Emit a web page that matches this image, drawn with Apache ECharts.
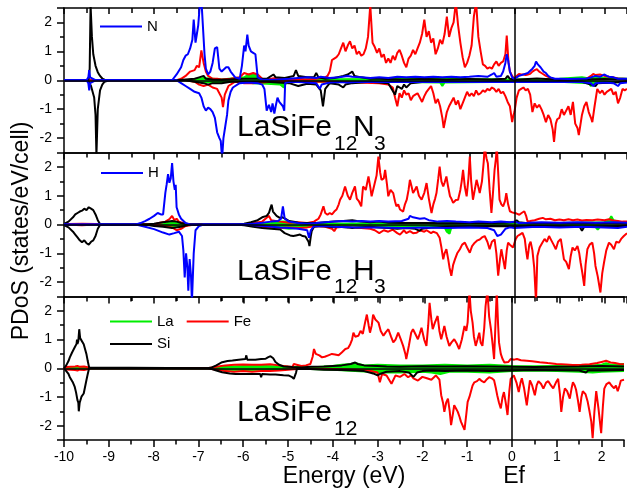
<!DOCTYPE html>
<html><head><meta charset="utf-8">
<script src="https://cdn.jsdelivr.net/npm/echarts@6/dist/echarts.min.js"></script>
<style>html,body{margin:0;padding:0;background:#fff}#c{width:627px;height:489px}</style>
</head><body><div id="c"></div>
<script>
// ---------------- DATA ----------------
const xTickValues = [-10,-9,-8,-7,-6,-5,-4,-3,-2,-1,0,1,2];
const yTickValues = [-2,-1,0,1,2];
const panelTitles = [
  {main:'LaSiFe', sub1:'12', el:'N', sub2:'3'},
  {main:'LaSiFe', sub1:'12', el:'H', sub2:'3'},
  {main:'LaSiFe', sub1:'12', el:'', sub2:''}
];

// ---- Panel 1: LaSiFe12N3 ----
const n3_La_up = [[-10,0],[-7.3,0],[-7.0,0.05],[-6.9,0.08],[-6.5,0.03],[-6.0,0.1],[-5.9,0.2],[-5.8,0.22],[-5.7,0.2],[-5.65,0.05],[-5.0,0.03],[-3.0,0.04],[-1.0,0.04],[0,0.03],[1.0,0.05],[1.5,0.1],[1.6,0.08],[2.0,0.08],[2.5,0.05]];
const n3_La_dn = [[-10,0],[-7.3,0],[-7.0,-0.06],[-6.9,-0.08],[-6.6,-0.05],[-6.0,-0.06],[-5.8,-0.1],[-5.5,-0.12],[-5.2,-0.15],[-5.12,-0.25],[-5.05,-0.04],[-3.0,-0.05],[-1.65,-0.08],[-1.6,-0.2],[-1.55,-0.08],[0,-0.05],[1.0,-0.05],[1.65,-0.1],[1.7,-0.2],[1.75,-0.1],[2.5,-0.05]];
const n3_Fe_up = [[-10,0],[-7.5,0],[-7.4,0.05],[-7.3,0.15],[-7.2,0.3],[-7.1,0.35],[-7.05,0.5],[-7.0,0.45],[-6.95,1.03],[-6.9,0.6],[-6.85,0.3],[-6.8,0.15],[-6.7,0.05],[-6.6,0.05],[-6.5,0.03],[-6.3,0.05],[-6.1,0.1],[-6.0,0.25],[-5.9,0.2],[-5.8,0.25],[-5.7,0.2],[-5.6,0.05],[-5.5,0.03],[-5.3,0.08],[-5.2,0.05],[-5.0,0.02],[-4.8,0.05],[-4.6,0.03],[-4.4,0.05],[-4.2,0.1],
 [-4.15,0.15],[-4.1,0.3],[-4.05,0.7],[-4.0,0.75],[-3.95,0.8],[-3.9,0.9],[-3.85,1.1],[-3.8,1.3],[-3.75,1.0],[-3.7,1.2],[-3.65,1.35],[-3.6,1.1],[-3.55,1.2],[-3.5,0.9],[-3.45,1.0],[-3.4,0.85],[-3.35,0.9],[-3.3,1.1],[-3.25,1.5],[-3.2,2.6],[-3.15,1.3],[-3.1,1.15],[-3.05,0.95],[-3.0,1.1],[-2.95,0.8],[-2.9,0.9],[-2.85,0.6],[-2.8,0.75],[-2.75,0.6],[-2.7,0.85],[-2.65,0.7],[-2.6,0.95],[-2.55,1.05],[-2.5,0.85],[-2.45,0.6],[-2.4,0.45],[-2.35,0.75],[-2.3,0.85],[-2.25,1.05],[-2.2,0.9],[-2.15,1.1],[-2.1,1.3],[-2.05,1.6],[-2.0,2.1],[-1.95,1.5],[-1.9,1.7],[-1.85,1.3],[-1.8,1.45],[-1.75,0.9],[-1.7,1.1],[-1.65,1.4],[-1.6,1.25],[-1.55,1.6],[-1.5,2.2],[-1.45,1.5],[-1.4,1.8],[-1.35,2.0],[-1.3,2.7],[-1.25,1.9],[-1.2,1.3],[-1.15,0.8],[-1.1,0.45],[-1.05,0.6],[-1.0,0.85],[-0.95,1.2],[-0.9,2.2],[-0.85,2.7],[-0.8,1.5],[-0.75,1.0],[-0.7,0.55],[-0.65,0.5],[-0.6,0.4],[-0.55,0.45],[-0.5,0.4],[-0.45,0.55],[-0.4,0.65],[-0.35,0.5],[-0.3,0.6],[-0.25,0.65],[-0.2,0.9],[-0.17,1.55],[-0.13,0.6],[-0.1,0.3],[-0.05,0.15],[0,0.05],[0.05,0.15],[0.1,0.22],[0.15,0.2],[0.2,0.2],[0.25,0.18],[0.3,0.2],[0.35,0.22],[0.4,0.3],[0.45,0.35],[0.5,0.38],[0.55,0.3],[0.6,0.25],[0.65,0.2],[0.7,0.15],[0.8,0.08],[0.9,0.04],[1.0,0.03],[1.2,0.03],[1.4,0.04],[1.6,0.05],[1.7,0.15],[1.75,0.22],[1.8,0.18],[1.9,0.2],[2.0,0.15],[2.1,0.12],[2.2,0.1],[2.3,0.06],[2.4,0.05],[2.5,0.04]];
const n3_Fe_dn = [[-10,0],[-7.3,0],[-7.1,-0.05],[-7.0,-0.15],[-6.9,-0.2],[-6.8,-0.15],[-6.7,-0.25],[-6.6,-0.3],[-6.5,-0.6],[-6.47,-0.93],[-6.43,-0.5],[-6.35,-0.2],[-6.2,-0.05],[-6.0,-0.1],[-5.8,-0.1],[-5.6,-0.08],[-5.4,-0.05],[-5.0,-0.03],[-4.5,-0.05],[-4.0,-0.05],[-3.5,-0.08],[-3.0,-0.1],[-2.8,-0.15],[-2.7,-0.25],[-2.65,-0.6],[-2.6,-0.9],[-2.55,-0.45],[-2.5,-0.6],[-2.45,-0.35],[-2.4,-0.5],[-2.35,-0.45],
 [-2.3,-0.69],[-2.25,-0.55],[-2.2,-0.5],[-2.15,-0.45],[-2.1,-0.6],[-2.05,-0.75],[-2.0,-0.55],[-1.95,-0.4],[-1.9,-0.3],[-1.85,-0.2],[-1.8,-0.45],[-1.75,-0.8],[-1.7,-0.65],[-1.65,-0.9],[-1.6,-1.3],[-1.57,-1.65],[-1.5,-1.1],[-1.45,-0.9],[-1.4,-0.75],[-1.35,-0.6],[-1.3,-0.85],[-1.25,-0.7],[-1.2,-1.0],[-1.15,-0.8],[-1.1,-0.6],[-1.05,-0.4],[-1.0,-0.55],[-0.95,-0.45],[-0.9,-0.55],[-0.85,-0.35],[-0.8,-0.5],[-0.75,-0.45],[-0.7,-0.35],[-0.65,-0.4],[-0.6,-0.3],[-0.55,-0.35],[-0.5,-0.25],[-0.45,-0.3],[-0.4,-0.4],[-0.35,-0.3],[-0.3,-0.45],[-0.25,-0.4],[-0.2,-0.55],[-0.15,-0.75],[-0.1,-0.9],[-0.05,-1.45],[-0.02,-1.2],[0,-1.1],[0.05,-0.6],[0.1,-0.35],[0.15,-0.3],[0.2,-0.25],[0.25,-0.35],[0.3,-0.3],[0.35,-0.5],[0.4,-1.1],[0.45,-0.8],[0.5,-0.95],[0.55,-0.85],[0.6,-1.0],[0.65,-1.2],[0.7,-1.45],[0.75,-1.2],[0.8,-1.35],[0.85,-1.7],[0.88,-2.13],[0.92,-1.5],[0.95,-1.35],[1.0,-1.3],[1.05,-1.0],[1.1,-1.2],[1.15,-1.05],[1.2,-0.9],[1.25,-1.2],[1.3,-0.75],[1.35,-1.5],[1.4,-1.65],[1.43,-1.9],[1.5,-1.2],[1.55,-0.9],[1.6,-0.75],[1.65,-1.1],[1.7,-1.3],[1.73,-1.45],[1.78,-0.9],[1.84,-0.3],[1.9,-0.45],[1.95,-0.35],[2.0,-0.5],[2.05,-0.4],[2.1,-0.35],[2.15,-0.3],[2.2,-0.5],[2.25,-0.4],[2.3,-0.8],[2.35,-0.6],[2.4,-0.3],[2.45,-0.35],[2.5,-0.3]];
const n3_Si_up = [[-10,0],[-9.5,0],[-9.45,0.05],[-9.43,0.4],[-9.41,2.6],[-9.38,1.5],[-9.35,0.9],[-9.3,0.5],[-9.25,0.28],[-9.2,0.15],[-9.15,0.06],[-9.1,0.02],[-9.0,0],[-7.5,0],[-7.3,0.03],[-7.1,0.05],[-7.0,0.1],[-6.9,0.15],[-6.85,0.05],[-6.7,0.03],[-6.5,0.02],[-6.0,0.05],[-5.5,0.05],[-5.35,0.2],[-5.3,0.1],[-5.1,0.08],[-4.9,0.15],[-4.85,0.35],[-4.8,0.15],[-4.6,0.1],[-4.45,0.1],[-4.4,0.25],[-4.35,0.1],[-4.2,0.05],[-4.0,0.08],[-3.8,0.15],[-3.7,0.2],[-3.6,0.3],[-3.55,0.15],[-3.4,0.1],[-3.2,0.05],[-3.0,0.05],[-2.5,0.03],[-2.0,0.04],[-1.5,0.03],[-1.0,0.04],[-0.5,0.03],[-0.2,0.05],[-0.15,0.15],[-0.1,0.05],[0,0.02],[0.5,0.06],[1.0,0.02],[1.5,0.03],[2.0,0.04],[2.5,0.02]];
const n3_Si_dn = [[-10,0],[-9.5,0],[-9.45,-0.05],[-9.4,-0.2],[-9.33,-0.6],[-9.3,-1.2],[-9.28,-2.6],[-9.25,-1.0],[-9.2,-0.35],[-9.15,-0.15],[-9.1,-0.05],[-9.0,0],[-7.3,0],[-7.1,-0.05],[-7.0,-0.08],[-6.9,-0.1],[-6.8,-0.15],[-6.7,-0.1],[-6.5,-0.1],[-6.3,-0.05],[-6.0,-0.05],[-5.5,-0.05],[-5.0,-0.1],[-4.8,-0.2],[-4.6,-0.12],[-4.4,-0.15],[-4.3,-0.35],[-4.25,-0.9],[-4.2,-0.3],[-4.1,-0.1],[-3.9,-0.15],[-3.8,-0.25],[-3.75,-0.15],[-3.6,-0.1],[-3.2,-0.05],[-3.0,-0.08],[-2.8,-0.1],[-2.65,-0.5],[-2.6,-0.2],[-2.5,-0.3],[-2.45,-0.15],[-2.4,-0.25],[-2.3,-0.1],[-2.0,-0.05],[-1.5,-0.05],[-1.0,-0.06],[0,-0.05],[0.5,-0.05],[1.5,-0.05],[1.8,-0.2],[1.85,-0.1],[2.5,-0.05]];
const n3_N_up = [[-10,0],[-9.5,0],[-9.46,0.1],[-9.44,0.35],[-9.42,0.1],[-9.3,0],[-7.6,0],[-7.5,0.2],[-7.4,0.45],[-7.35,0.7],[-7.3,0.85],[-7.25,0.9],[-7.2,1.1],[-7.15,1.4],[-7.12,2.1],[-7.08,1.3],[-7.05,1.6],[-7.02,1.9],[-6.99,2.5],[-6.95,2.8],[-6.92,2.8],[-6.88,0.9],[-6.85,0.4],[-6.8,0.2],[-6.75,0.3],[-6.7,0.6],[-6.65,1.1],[-6.6,1.15],[-6.55,0.4],[-6.5,0.3],[-6.4,0.45],[-6.35,0.45],[-6.3,0.3],[-6.2,0.1],[-6.1,0.05],[-6.05,0.5],[-6.0,1.2],[-5.97,1.0],[-5.93,1.58],[-5.9,1.2],[-5.85,1.0],[-5.8,0.95],[-5.75,0.9],[-5.72,0.85],[-5.7,0.1],[-5.6,0.02],[-5.3,0.02],[-5.0,0.05],[-4.8,0.08],[-4.6,0.1],[-4.4,0.08],[-4.3,0.12],[-4.1,0.08],[-3.9,0.1],[-3.7,0.15],[-3.6,0.12],[-3.4,0.1],[-3.2,0.08],[-3.0,0.1],[-2.8,0.08],[-2.6,0.12],[-2.4,0.1],[-2.2,0.12],[-2.0,0.1],[-1.8,0.12],[-1.6,0.1],[-1.4,0.12],[-1.2,0.1],[-1.0,0.12],[-0.8,0.15],[-0.6,0.12],[-0.5,0.2],[-0.45,0.25],[-0.4,0.12],[-0.3,0.15],[-0.25,0.3],[-0.2,0.6],[-0.17,0.9],[-0.14,0.7],[-0.1,0.3],[-0.05,0.1],[0,0.05],[0.1,0.15],[0.2,0.2],[0.3,0.25],[0.4,0.4],[0.45,0.5],[0.48,0.65],[0.52,0.55],[0.58,0.45],[0.65,0.3],[0.7,0.25],[0.75,0.15],[0.8,0.1],[0.9,0.05],[1.0,0.05],[1.2,0.04],[1.4,0.05],[1.6,0.06],[1.7,0.1],[1.8,0.15],[1.9,0.12],[2.0,0.2],[2.05,0.15],[2.1,0.12],[2.2,0.1],[2.3,0.05],[2.4,0.05],[2.5,0.05]];
const n3_N_dn = [[-10,0],[-9.5,0],[-9.46,-0.1],[-9.44,-0.35],[-9.42,-0.1],[-9.3,0],[-7.5,0],[-7.4,-0.1],[-7.3,-0.2],[-7.2,-0.3],[-7.1,-0.4],[-7.0,-0.45],[-6.95,-0.6],[-6.9,-0.9],[-6.85,-1.05],[-6.8,-0.95],[-6.75,-1.0],[-6.7,-1.1],[-6.65,-1.3],[-6.6,-1.8],[-6.55,-2.0],[-6.52,-2.1],[-6.49,-2.7],[-6.46,-2.0],[-6.42,-1.6],[-6.38,-1.2],[-6.35,-0.7],[-6.3,-0.4],[-6.25,-0.25],[-6.1,-0.1],[-5.9,-0.08],[-5.7,-0.1],[-5.6,-0.15],[-5.55,-0.3],[-5.5,-1.05],[-5.45,-0.85],[-5.4,-1.1],[-5.37,-0.8],[-5.33,-1.15],[-5.3,-0.9],[-5.26,-0.6],[-5.22,-0.75],[-5.18,-0.8],[-5.14,-0.9],[-5.11,-1.05],[-5.09,-0.1],[-5.0,-0.05],[-4.8,-0.06],[-4.6,-0.08],[-4.4,-0.1],[-4.32,-0.3],[-4.28,-0.15],[-4.1,-0.08],[-3.9,-0.06],[-3.7,-0.08],[-3.5,-0.06],[-3.3,-0.05],[-3.0,-0.06],[-2.5,-0.05],[-2.0,-0.06],[-1.5,-0.05],[-1.0,-0.06],[-0.5,-0.05],[0,-0.06],[0.5,-0.05],[1.0,-0.06],[1.5,-0.06],[1.7,-0.1],[1.75,-0.2],[1.8,-0.1],[2.0,-0.08],[2.2,-0.1],[2.3,-0.2],[2.35,-0.1],[2.5,-0.08]];

// ---- Panel 2: LaSiFe12H3 ----
const h3_La_up = [[-10,0],[-7.8,0],[-7.65,0.08],[-7.55,0.1],[-7.45,0.05],[-7.3,0],[-5.8,0],[-5.4,0.05],[-5.2,0.1],[-5.0,0.1],[-4.8,0.05],[-4.5,0.02],[-3.0,0.04],[-1.0,0.05],[0,0.04],[1.0,0.05],[2.0,0.08],[2.1,0.15],[2.15,0.29],[2.2,0.15],[2.3,0.1],[2.5,0.06]];
const h3_La_dn = [[-10,0],[-7.8,0],[-7.6,-0.06],[-7.45,-0.05],[-7.3,0],[-5.8,0],[-5.3,-0.1],[-5.0,-0.15],[-4.7,-0.1],[-4.5,-0.03],[-3.0,-0.05],[-1.55,-0.1],[-1.5,-0.25],[-1.44,-0.32],[-1.4,-0.1],[-1.0,-0.05],[0,-0.05],[1.0,-0.06],[1.8,-0.08],[1.85,-0.18],[1.9,-0.08],[2.5,-0.05]];
const h3_Fe_up = [[-10,0],[-9.9,0.02],[-9.6,0.03],[-9.3,0.02],[-9.1,0],[-8.0,0],[-7.9,0.05],[-7.75,0.1],[-7.65,0.2],[-7.6,0.3],[-7.55,0.15],[-7.5,0.2],[-7.45,0.1],[-7.3,0.03],[-7.1,0],[-6.0,0],[-5.8,0.05],[-5.6,0.1],[-5.45,0.3],[-5.4,0.15],[-5.2,0.1],[-5.0,0.06],[-4.8,0.08],[-4.6,0.05],[-4.45,0.1],[-4.4,0.15],
 [-4.35,0.2],[-4.3,0.35],[-4.24,0.63],[-4.2,0.4],[-4.15,0.34],[-4.1,0.4],[-4.05,0.35],[-4.0,0.45],[-3.95,0.52],[-3.9,0.7],[-3.87,0.86],[-3.82,1.0],[-3.76,1.32],[-3.7,1.0],[-3.65,0.86],[-3.6,1.1],[-3.54,1.32],[-3.5,0.9],[-3.45,0.8],[-3.4,0.63],[-3.36,1.32],[-3.3,1.2],[-3.24,1.67],[-3.2,1.3],[-3.17,0.98],[-3.1,1.44],[-3.06,1.7],[-3.02,2.36],[-2.98,1.8],[-2.95,1.55],[-2.9,1.6],[-2.87,1.9],[-2.83,1.4],[-2.8,0.98],[-2.75,1.2],[-2.69,1.09],[-2.65,0.8],[-2.62,0.63],[-2.58,0.7],[-2.54,0.52],[-2.5,0.55],[-2.47,0.45],[-2.43,0.7],[-2.39,0.86],[-2.35,1.2],[-2.32,1.55],[-2.28,1.3],[-2.25,1.09],[-2.21,1.2],[-2.17,1.32],[-2.12,1.0],[-2.06,0.86],[-2.0,1.1],[-1.95,1.44],[-1.9,0.9],[-1.84,0.4],[-1.8,0.7],[-1.76,0.9],[-1.73,1.09],[-1.69,1.6],[-1.66,2.01],[-1.62,1.5],[-1.58,1.32],[-1.55,1.45],[-1.51,1.67],[-1.47,1.3],[-1.43,0.98],[-1.4,0.9],[-1.36,0.75],[-1.3,0.85],[-1.25,0.86],[-1.2,1.2],[-1.17,1.5],[-1.14,1.9],[-1.1,1.3],[-1.06,0.98],[-1.02,1.6],[-0.99,2.36],[-0.96,1.5],[-0.92,0.86],[-0.88,1.2],[-0.84,1.55],[-0.8,1.3],[-0.77,1.09],[-0.72,1.5],[-0.68,2.2],[-0.66,2.7],[-0.62,2.3],[-0.59,2.13],[-0.55,1.2],[-0.51,0.4],[-0.48,1.0],[-0.44,1.9],[-0.41,2.3],[-0.39,2.7],[-0.36,1.8],[-0.33,0.86],[-0.29,0.7],[-0.25,0.63],[-0.21,0.8],[-0.18,1.09],[-0.14,0.7],[-0.1,0.46],[-0.05,0.42],[0,0.4],[0.05,0.38],[0.11,0.34],[0.16,0.4],[0.22,0.46],[0.26,0.3],[0.29,0.11],[0.35,0.12],[0.45,0.15],[0.55,0.2],[0.63,0.23],[0.7,0.18],[0.8,0.2],[0.9,0.15],[1.0,0.17],[1.1,0.15],[1.2,0.18],[1.3,0.15],[1.4,0.17],[1.5,0.14],[1.6,0.16],[1.73,0.15],[1.85,0.17],[2.0,0.15],[2.1,0.18],[2.2,0.14],[2.3,0.12],[2.4,0.1],[2.5,0.1]];
const h3_Fe_dn = [[-10,0],[-9.6,-0.03],[-9.3,0],[-8.0,0],[-7.8,-0.05],[-7.6,-0.1],[-7.5,-0.2],[-7.4,-0.15],[-7.3,-0.05],[-7.1,0],[-6.0,0],[-5.8,-0.05],[-5.5,-0.1],[-5.2,-0.12],[-5.0,-0.1],[-4.8,-0.12],[-4.6,-0.1],[-4.4,-0.05],[-4.2,-0.08],[-4.05,-0.15],[-4.0,-0.23],[-3.95,-0.1],[-3.8,-0.08],[-3.6,-0.1],[-3.4,-0.12],[-3.2,-0.15],[-3.1,-0.2],[-3.0,-0.3],[-2.98,-0.35],[-2.9,-0.2],[-2.8,-0.25],[-2.7,-0.18],[-2.6,-0.3],[-2.54,-0.35],[-2.45,-0.2],[-2.4,-0.3],[-2.32,-0.23],[-2.25,-0.3],[-2.17,-0.29],[-2.1,-0.2],[-2.0,-0.25],[-1.95,-0.2],[-1.85,-0.3],[-1.8,-0.25],[-1.72,-0.3],[-1.66,-0.46],[-1.62,-0.8],[-1.58,-1.21],[-1.55,-1.0],[-1.51,-0.86],[-1.47,-1.2],[-1.44,-1.5],[-1.4,-1.78],[-1.36,-1.4],[-1.32,-1.21],[-1.27,-1.0],[-1.21,-0.86],[-1.16,-0.7],[-1.1,-0.63],[-1.05,-0.8],[-0.99,-0.98],[-0.94,-0.75],[-0.88,-0.63],[-0.82,-0.55],[-0.77,-0.52],[-0.72,-0.45],[-0.66,-0.4],[-0.6,-0.6],[-0.55,-0.86],[-0.5,-0.6],[-0.44,-0.52],[-0.4,-1.0],[-0.36,-1.78],[-0.32,-1.2],[-0.29,-0.86],[-0.25,-1.2],[-0.21,-1.55],[-0.17,-0.9],[-0.14,-0.63],[-0.1,-0.7],[-0.07,-0.75],[-0.03,-0.8],[0,-0.86],[0.03,-0.5],[0.07,-0.4],[0.12,-0.35],[0.18,-0.29],[0.23,-0.5],[0.26,-0.9],[0.29,-1.21],[0.33,-0.7],[0.36,-0.6],[0.4,-0.9],[0.44,-1.5],[0.48,-2.7],[0.51,-1.09],[0.56,-0.8],[0.62,-0.63],[0.67,-0.5],[0.72,-0.6],[0.77,-0.4],[0.82,-0.55],[0.87,-0.7],[0.92,-0.86],[0.97,-0.6],[1.03,-0.5],[1.07,-0.9],[1.1,-1.21],[1.15,-1.3],[1.21,-1.55],[1.25,-1.1],[1.29,-0.8],[1.34,-0.9],[1.4,-0.75],[1.44,-1.0],[1.47,-1.32],[1.51,-1.7],[1.55,-2.13],[1.58,-1.4],[1.62,-0.86],[1.67,-0.7],[1.73,-0.63],[1.77,-1.0],[1.8,-1.44],[1.85,-1.8],[1.91,-2.36],[1.95,-1.7],[1.99,-1.32],[2.04,-0.9],[2.1,-0.63],[2.15,-0.7],[2.21,-0.86],[2.26,-0.6],[2.32,-0.63],[2.37,-0.5],[2.43,-0.4],[2.5,-0.3]];
const h3_Si_up = [[-10,0.02],[-9.9,0.1],[-9.8,0.25],[-9.75,0.35],[-9.7,0.4],[-9.65,0.45],[-9.6,0.48],[-9.55,0.55],[-9.5,0.5],[-9.45,0.6],[-9.4,0.55],[-9.35,0.5],[-9.3,0.35],[-9.25,0.15],[-9.2,0.02],[-9.1,0],[-8.2,0],[-8.0,0.03],[-7.8,0.08],[-7.6,0.12],[-7.5,0.1],[-7.4,0.05],[-7.2,0],[-6.2,0],[-6.0,0.03],[-5.85,0.08],[-5.7,0.15],[-5.6,0.25],[-5.5,0.3],[-5.45,0.4],[-5.42,0.55],[-5.39,0.69],[-5.36,0.45],[-5.32,0.4],[-5.28,0.3],[-5.21,0.23],[-5.15,0.25],[-5.09,0.2],[-5.0,0.12],[-4.9,0.1],[-4.8,0.06],[-4.6,0.05],[-4.4,0.05],[-4.2,0.08],[-4.0,0.1],[-3.8,0.12],[-3.6,0.15],[-3.5,0.12],[-3.4,0.1],[-3.2,0.08],[-3.0,0.1],[-2.8,0.06],[-2.5,0.05],[-2.0,0.05],[-1.5,0.04],[-1.0,0.05],[-0.5,0.05],[-0.2,0.06],[0,0.08],[0.05,0.15],[0.1,0.08],[0.3,0.04],[1.0,0.04],[2.0,0.05],[2.5,0.03]];
const h3_Si_dn = [[-10,-0.02],[-9.9,-0.1],[-9.8,-0.25],[-9.75,-0.35],[-9.7,-0.45],[-9.65,-0.55],[-9.6,-0.62],[-9.55,-0.55],[-9.5,-0.65],[-9.45,-0.7],[-9.4,-0.6],[-9.35,-0.55],[-9.3,-0.4],[-9.25,-0.15],[-9.2,-0.02],[-9.1,0],[-8.2,0],[-8.0,-0.05],[-7.8,-0.08],[-7.6,-0.12],[-7.4,-0.08],[-7.2,0],[-6.2,0],[-6.0,-0.03],[-5.8,-0.08],[-5.6,-0.12],[-5.4,-0.15],[-5.2,-0.17],[-5.1,-0.3],[-5.06,-0.35],[-4.98,-0.38],[-4.91,-0.4],[-4.85,-0.38],[-4.76,-0.35],[-4.7,-0.4],[-4.64,-0.42],[-4.61,-0.46],[-4.57,-0.6],[-4.55,-0.75],[-4.52,-0.4],[-4.5,-0.23],[-4.45,-0.08],[-4.3,-0.05],[-4.0,-0.1],[-3.9,-0.08],[-3.7,-0.1],[-3.6,-0.12],[-3.5,-0.1],[-3.2,-0.08],[-3.0,-0.1],[-2.8,-0.12],[-2.6,-0.15],[-2.4,-0.12],[-2.2,-0.15],[-2.1,-0.22],[-2.05,-0.15],[-1.8,-0.1],[-1.5,-0.08],[-1.0,-0.06],[-0.5,-0.05],[0,-0.06],[0.5,-0.05],[1.0,-0.06],[1.45,-0.08],[1.5,-0.22],[1.55,-0.08],[2.0,-0.06],[2.5,-0.05]];
const h3_H_up = [[-10,0],[-8.4,0],[-8.3,0.05],[-8.2,0.12],[-8.1,0.2],[-8.0,0.3],[-7.92,0.4],[-7.85,0.35],[-7.8,0.35],[-7.75,1.1],[-7.72,1.4],[-7.69,1.75],[-7.66,1.45],[-7.63,1.6],[-7.6,2.13],[-7.57,1.5],[-7.54,1.2],[-7.52,1.38],[-7.5,0.6],[-7.45,0.35],[-7.4,0.2],[-7.3,0.05],[-7.2,0],[-6.0,0],[-5.8,0.03],[-5.6,0.06],[-5.4,0.1],[-5.25,0.12],[-5.18,0.2],[-5.14,0.63],[-5.1,0.2],[-5.0,0.1],[-4.8,0.05],[-4.6,0.03],[-4.4,0.05],[-4.2,0.08],[-4.0,0.1],[-3.8,0.12],[-3.6,0.1],[-3.4,0.12],[-3.2,0.1],[-3.0,0.12],[-2.8,0.1],[-2.5,0.12],[-2.35,0.2],[-2.32,0.3],[-2.25,0.25],[-2.1,0.2],[-2.0,0.22],[-1.9,0.15],[-1.7,0.1],[-1.5,0.12],[-1.3,0.1],[-1.0,0.08],[-0.8,0.1],[-0.5,0.08],[-0.3,0.1],[-0.1,0.08],[0,0.1],[0.1,0.05],[0.3,0.06],[0.6,0.08],[1.0,0.06],[1.4,0.08],[1.8,0.06],[2.2,0.08],[2.5,0.06]];
const h3_H_dn = [[-10,0],[-8.4,0],[-8.2,-0.08],[-8.0,-0.16],[-7.8,-0.28],[-7.66,-0.35],[-7.55,-0.3],[-7.45,-0.25],[-7.38,-0.4],[-7.35,-0.9],[-7.32,-1.84],[-7.29,-1.0],[-7.26,-1.5],[-7.24,-2.3],[-7.21,-1.2],[-7.18,-1.8],[-7.16,-2.7],[-7.12,-1.0],[-7.08,-0.2],[-7.0,-0.05],[-6.9,0],[-6.0,0],[-5.8,-0.03],[-5.5,-0.06],[-5.2,-0.1],[-5.0,-0.12],[-4.8,-0.15],[-4.6,-0.2],[-4.56,-0.46],[-4.52,-0.2],[-4.45,-0.06],[-4.2,-0.05],[-4.0,-0.08],[-3.5,-0.1],[-3.0,-0.1],[-2.5,-0.12],[-2.0,-0.1],[-1.5,-0.12],[-1.0,-0.1],[-0.6,-0.12],[-0.45,-0.2],[-0.38,-0.4],[-0.3,-0.35],[-0.2,-0.15],[-0.1,-0.1],[0,-0.12],[0.2,-0.1],[0.5,-0.08],[1.0,-0.1],[1.5,-0.08],[2.0,-0.1],[2.3,-0.12],[2.5,-0.08]];

// ---- Panel 3: LaSiFe12 ----
const p_La_up = [[-10,0],[-9.7,0.02],[-9.4,0],[-6.8,0],[-6.4,0.05],[-6.0,0.08],[-5.5,0.08],[-5.0,0.05],[-4.5,0.03],[-4.0,0.08],[-3.8,0.12],[-3.6,0.15],[-3.5,0.18],[-3.3,0.1],[-3.0,0.12],[-2.5,0.1],[-2.0,0.1],[-1.5,0.12],[-1.0,0.1],[-0.5,0.12],[0,0.08],[0.5,0.07],[1.0,0.08],[1.5,0.07],[2.0,0.12],[2.1,0.18],[2.2,0.12],[2.5,0.15]];
const p_La_dn = [[-10,0],[-9.4,0],[-6.8,0],[-6.4,-0.05],[-6.0,-0.06],[-5.5,-0.05],[-5.0,-0.03],[-4.5,-0.03],[-4.0,-0.05],[-3.5,-0.1],[-3.2,-0.12],[-3.0,-0.15],[-2.5,-0.15],[-2.0,-0.12],[-1.8,-0.15],[-1.6,-0.2],[-1.4,-0.12],[-1.0,-0.12],[-0.5,-0.15],[0,-0.1],[0.5,-0.08],[1.0,-0.1],[1.5,-0.12],[1.8,-0.15],[2.0,-0.12],[2.5,-0.1]];
const p_Fe_up = [[-10,0],[-9.95,0.04],[-9.85,0.05],[-9.75,0.06],[-9.7,0.08],[-9.65,0.05],[-9.55,0.06],[-9.45,0.03],[-9.4,0],[-6.8,0],[-6.6,0.05],[-6.4,0.1],[-6.2,0.12],[-6.0,0.13],[-5.8,0.12],[-5.6,0.12],[-5.4,0.14],[-5.2,0.1],[-5.0,0.06],[-4.9,0.04],[-4.87,0.15],[-4.84,0.1],[-4.7,0.08],[-4.6,0.1],[-4.5,0.15],[-4.45,0.4],[-4.42,0.67],[-4.38,0.5],[-4.3,0.45],[-4.24,0.38],[-4.18,0.4],[-4.1,0.45],[-4.02,0.5],[-3.95,0.48],[-3.87,0.45],[-3.8,0.55],[-3.72,0.67],[-3.66,0.7],[-3.61,0.84],[-3.57,1.0],[-3.54,1.24],[-3.5,1.1],[-3.43,1.13],[-3.38,1.3],[-3.33,1.2],[-3.28,1.59],[-3.24,1.87],[-3.2,1.5],[-3.17,1.24],[-3.13,1.5],[-3.1,1.87],[-3.05,1.7],[-2.98,1.59],[-2.93,1.3],[-2.87,1.13],[-2.82,1.25],[-2.76,1.36],[-2.7,1.1],[-2.65,0.9],[-2.6,1.0],[-2.54,1.24],[-2.48,1.0],[-2.43,0.78],[-2.38,0.5],[-2.36,0.32],[-2.3,0.8],[-2.25,1.24],[-2.21,1.36],[-2.16,1.2],[-2.1,1.01],[-2.06,1.2],[-2.02,1.41],[-1.96,1.0],[-1.91,0.78],[-1.87,1.5],[-1.84,2.28],[-1.8,1.7],[-1.77,1.36],[-1.72,1.6],[-1.66,1.82],[-1.62,1.3],[-1.58,1.01],[-1.55,1.2],[-1.51,1.47],[-1.46,1.1],[-1.4,0.78],[-1.35,0.9],[-1.29,1.01],[-1.23,0.85],[-1.18,0.67],[-1.12,1.0],[-1.06,1.47],[-1.02,1.3],[-0.99,1.6],[-0.95,2.7],[-0.92,2.0],[-0.88,1.59],[-0.85,1.1],[-0.81,0.78],[-0.77,1.0],[-0.73,1.24],[-0.7,0.9],[-0.66,0.78],[-0.62,1.4],[-0.59,2.16],[-0.55,2.7],[-0.51,1.8],[-0.47,1.36],[-0.43,0.8],[-0.4,0.32],[-0.37,1.5],[-0.34,2.7],[-0.31,1.5],[-0.29,0.9],[-0.25,0.5],[-0.21,0.32],[-0.17,0.2],[-0.14,0.15],[-0.08,0.22],[-0.03,0.32],[0.05,0.3],[0.11,0.32],[0.2,0.28],[0.33,0.26],[0.45,0.24],[0.62,0.21],[0.8,0.18],[0.99,0.15],[1.2,0.13],[1.36,0.11],[1.55,0.12],[1.73,0.14],[1.9,0.18],[2.0,0.22],[2.1,0.26],[2.2,0.2],[2.3,0.18],[2.4,0.15],[2.5,0.14]];
const p_Fe_dn = [[-10,0],[-9.95,-0.04],[-9.85,-0.05],[-9.75,-0.06],[-9.7,-0.08],[-9.65,-0.05],[-9.55,-0.06],[-9.45,-0.03],[-9.4,0],[-6.8,0],[-6.6,-0.05],[-6.4,-0.1],[-6.2,-0.12],[-6.0,-0.1],[-5.8,-0.12],[-5.6,-0.1],[-5.4,-0.1],[-5.2,-0.08],[-5.0,-0.05],[-4.8,-0.03],[-4.5,-0.02],[-4.0,-0.03],[-3.5,-0.05],[-3.2,-0.08],[-3.0,-0.15],[-2.95,-0.49],[-2.9,-0.2],[-2.8,-0.25],[-2.69,-0.54],[-2.6,-0.25],[-2.5,-0.3],[-2.4,-0.2],[-2.32,-0.31],[-2.25,-0.25],[-2.2,-0.35],[-2.1,-0.43],[-2.0,-0.3],[-1.9,-0.35],[-1.8,-0.4],[-1.7,-0.25],[-1.62,-0.4],[-1.58,-0.94],[-1.54,-1.2],[-1.51,-1.52],[-1.47,-1.2],[-1.43,-1.06],[-1.39,-1.5],[-1.36,-1.98],[-1.32,-1.6],[-1.29,-1.29],[-1.25,-1.4],[-1.21,-1.52],[-1.17,-1.7],[-1.14,-1.86],[-1.1,-1.9],[-1.06,-2.15],[-1.02,-1.6],[-0.99,-1.17],[-0.95,-1.0],[-0.92,-0.83],[-0.88,-0.6],[-0.84,-0.49],[-0.78,-0.45],[-0.73,-0.37],[-0.67,-0.45],[-0.62,-0.49],[-0.56,-0.38],[-0.51,-0.31],[-0.45,-0.35],[-0.4,-0.42],[-0.36,-0.7],[-0.33,-0.94],[-0.29,-1.2],[-0.25,-1.4],[-0.21,-1.0],[-0.18,-0.83],[-0.14,-1.2],[-0.1,-1.63],[-0.06,-0.8],[-0.03,-0.37],[0.04,-0.25],[0.1,-0.5],[0.15,-0.83],[0.19,-0.5],[0.22,-0.35],[0.27,-0.7],[0.33,-1.29],[0.37,-0.8],[0.4,-0.42],[0.45,-0.6],[0.51,-0.94],[0.55,-0.6],[0.59,-0.45],[0.65,-0.55],[0.7,-0.71],[0.76,-0.5],[0.81,-0.45],[0.87,-0.6],[0.92,-0.7],[0.98,-0.5],[1.03,-0.37],[1.07,-0.9],[1.1,-1.52],[1.14,-1.0],[1.18,-0.7],[1.23,-0.8],[1.29,-1.06],[1.33,-0.7],[1.36,-0.49],[1.4,-0.6],[1.43,-0.75],[1.47,-1.1],[1.51,-1.52],[1.55,-1.0],[1.58,-0.8],[1.64,-0.9],[1.69,-1.17],[1.73,-1.5],[1.77,-1.86],[1.8,-2.44],[1.84,-1.5],[1.88,-0.8],[1.93,-1.4],[1.99,-2.26],[2.03,-1.3],[2.06,-0.71],[2.11,-0.55],[2.17,-0.49],[2.22,-0.6],[2.28,-0.7],[2.32,-0.6],[2.36,-0.8],[2.4,-0.6],[2.43,-0.43],[2.5,-0.4]];
const p_Si_up = [[-10,0],[-9.95,0.1],[-9.9,0.25],[-9.87,0.38],[-9.82,0.55],[-9.76,0.73],[-9.72,0.85],[-9.71,1.0],[-9.7,0.85],[-9.68,0.95],[-9.66,1.36],[-9.64,1.05],[-9.61,1.0],[-9.56,0.84],[-9.5,0.5],[-9.47,0.25],[-9.44,0.03],[-9.4,0],[-6.8,0],[-6.7,0.03],[-6.6,0.1],[-6.47,0.21],[-6.35,0.25],[-6.24,0.27],[-6.1,0.3],[-5.95,0.32],[-5.93,0.45],[-5.91,0.3],[-5.8,0.3],[-5.73,0.3],[-5.6,0.32],[-5.5,0.33],[-5.45,0.38],[-5.39,0.42],[-5.33,0.35],[-5.28,0.22],[-5.2,0.12],[-5.1,0.06],[-4.9,0.04],[-4.7,0.03],[-4.5,0.05],[-4.2,0.06],[-4.0,0.08],[-3.8,0.1],[-3.6,0.15],[-3.5,0.2],[-3.45,0.15],[-3.3,0.1],[-3.0,0.08],[-2.8,0.06],[-2.5,0.05],[-2.0,0.07],[-1.5,0.06],[-1.0,0.07],[-0.5,0.06],[0,0.05],[0.5,0.04],[1.0,0.05],[1.5,0.06],[2.0,0.08],[2.5,0.06]];
const p_Si_dn = [[-10,0],[-9.95,-0.1],[-9.9,-0.2],[-9.87,-0.31],[-9.8,-0.5],[-9.76,-0.65],[-9.73,-0.85],[-9.7,-1.11],[-9.68,-1.2],[-9.67,-1.5],[-9.65,-1.2],[-9.61,-0.99],[-9.56,-0.88],[-9.5,-0.42],[-9.47,-0.2],[-9.44,0],[-9.4,0],[-6.8,0],[-6.7,-0.03],[-6.6,-0.08],[-6.47,-0.14],[-6.3,-0.18],[-6.17,-0.2],[-6.0,-0.2],[-5.8,-0.2],[-5.62,-0.2],[-5.6,-0.31],[-5.58,-0.2],[-5.4,-0.22],[-5.28,-0.22],[-5.1,-0.24],[-4.99,-0.25],[-4.92,-0.3],[-4.87,-0.37],[-4.82,-0.15],[-4.8,-0.02],[-4.5,-0.03],[-4.2,-0.05],[-3.8,-0.06],[-3.5,-0.08],[-3.3,-0.1],[-3.1,-0.18],[-3.0,-0.25],[-2.95,-0.2],[-2.8,-0.12],[-2.5,-0.1],[-2.3,-0.15],[-2.2,-0.3],[-2.17,-0.34],[-2.12,-0.15],[-2.0,-0.1],[-1.8,-0.08],[-1.5,-0.1],[-1.0,-0.08],[-0.5,-0.1],[0,-0.08],[0.5,-0.06],[1.0,-0.07],[1.5,-0.08],[1.65,-0.15],[1.7,-0.08],[2.0,-0.08],[2.5,-0.06]];

// ---------------- STYLE / LAYOUT ----------------
const FONT = '"Liberation Sans", Arial, sans-serif';
const C = {La:'#00ee00', Fe:'#ff0000', Si:'#000000', N:'#0000ff', H:'#0000ff'};
const W = {La:2, Fe:2, Si:2, N:2, H:2};
const gridDefs = [{top:8,height:144.5},{top:152.5,height:144},{top:296.5,height:143.5}];

const chart = echarts.init(document.getElementById('c'), null, {renderer:'canvas'});

const grid = gridDefs.map(g => ({left:64, right:0, top:g.top, height:g.height}));
const xAxis = [], yAxis = [];
gridDefs.forEach((g, i) => {
  const last = i === gridDefs.length - 1;
  xAxis.push({
    type:'value', gridIndex:i, min:-10, max:2.5, interval:1, position:'bottom',
    axisLine:{show:true, onZero:false, lineStyle:{color:'#000', width:1.5}},
    axisTick:{show:true, inside:false, length:7, lineStyle:{color:'#000', width:1.5}},
    minorTick:{show:true, splitNumber:2, length:4.5, lineStyle:{color:'#000', width:1.5}},
    splitLine:{show:false},
    axisLabel:{show:last, color:'#000', fontSize:14, fontFamily:FONT, margin:10,
      formatter: v => xTickValues.includes(v) ? String(v) : ''},
    name: last ? 'Energy (eV)' : '', nameLocation:'middle', nameGap:24,
    nameTextStyle:{color:'#000', fontSize:23, fontFamily:FONT}
  });
  xAxis.push({
    type:'value', gridIndex:i, min:-10, max:2.5, interval:1, position:'top',
    axisLine:{show:true, onZero:false, lineStyle:{color:'#000', width:1.5}},
    axisTick:{show:true, inside:true, length:6, lineStyle:{color:'#000', width:1.5}},
    minorTick:{show:true, splitNumber:2, length:5, lineStyle:{color:'#000', width:1.5}},
    splitLine:{show:false}, axisLabel:{show:false}
  });
  yAxis.push({
    type:'value', gridIndex:i, min:-2.5, max:2.5, splitNumber:5,
    axisLine:{show:true, onZero:false, lineStyle:{color:'#000', width:1.5}},
    axisTick:{show:true, inside:false, length:7, lineStyle:{color:'#000', width:1.5}},
    minorTick:{show:true, splitNumber:2, length:4, lineStyle:{color:'#000', width:1.5}},
    splitLine:{show:false},
    axisLabel:{color:'#000', fontSize:14, fontFamily:FONT, margin:12,
      formatter: v => yTickValues.includes(v) ? String(v) : ''}
  });
});

function mk(name, data, gi, extra) {
  return Object.assign({
    type:'line', name, data, xAxisIndex:gi*2, yAxisIndex:gi,
    symbol:'none', showSymbol:false, silent:true, animation:false,
    lineStyle:{color:C[name], width:W[name]}, itemStyle:{color:C[name]}
  }, extra || {});
}
const green = {areaStyle:{color:C.La, opacity:1}};
function refLines(gi) {
  return {markLine:{silent:true, symbol:['none','none'], label:{show:false}, animation:false,
    lineStyle:{color:'#000', width:1.5, type:'solid'},
    data:[{xAxis:0},{yAxis:0}]}};
}

const panels = [
  {La:[n3_La_up,n3_La_dn], Fe:[n3_Fe_up,n3_Fe_dn], Si:[n3_Si_up,n3_Si_dn], X:['N',n3_N_up,n3_N_dn]},
  {La:[h3_La_up,h3_La_dn], Fe:[h3_Fe_up,h3_Fe_dn], Si:[h3_Si_up,h3_Si_dn], X:['H',h3_H_up,h3_H_dn]},
  {La:[p_La_up,p_La_dn], Fe:[p_Fe_up,p_Fe_dn], Si:[p_Si_up,p_Si_dn], X:null}
];
const series = [];
panels.forEach((p, gi) => {
  series.push(mk('La', p.La[0], gi, green), mk('La', p.La[1], gi, green));
  series.push(mk('Fe', p.Fe[0], gi), mk('Fe', p.Fe[1], gi));
  series.push(mk('Si', p.Si[0], gi, refLines(gi)), mk('Si', p.Si[1], gi));
  if (p.X) series.push(mk(p.X[0], p.X[1], gi), mk(p.X[0], p.X[2], gi));
});

const legendBase = {orient:'horizontal', padding:0, itemWidth:42, itemHeight:2, itemGap:13, selectedMode:false,
  icon:'rect', textStyle:{color:'#000', fontSize:15, fontFamily:FONT}};
const legend = [
  Object.assign({}, legendBase, {data:['N'], left:100, top:19}),
  Object.assign({}, legendBase, {data:['H'], left:101, top:165.5}),
  Object.assign({}, legendBase, {data:['La','Fe'], left:110, top:314}),
  Object.assign({}, legendBase, {data:['Si'], left:110, top:336.5})
];

// panel label texts (compound formula with subscripts)
const titleRows = [{base:138.3},{base:281.7},{base:423.3}];
const graphic = [];
panelTitles.forEach((t, i) => {
  const b = titleRows[i].base;
  const mainY = b - 10.4, subY = b + 13 - 7.3;
  graphic.push({type:'text', x:237, y:mainY, silent:true,
    style:{text:t.main, font:'30px '+FONT, fill:'#000', align:'left', verticalAlign:'middle'}});
  graphic.push({type:'text', x:334, y:subY, silent:true,
    style:{text:t.sub1, font:'21px '+FONT, fill:'#000', align:'left', verticalAlign:'middle'}});
  if (t.el) {
    graphic.push({type:'text', x:353, y:mainY, silent:true,
      style:{text:t.el, font:'30px '+FONT, fill:'#000', align:'left', verticalAlign:'middle'}});
    graphic.push({type:'text', x:374, y:subY, silent:true,
      style:{text:t.sub2, font:'21px '+FONT, fill:'#000', align:'left', verticalAlign:'middle'}});
  }
});
graphic.push({type:'text', x:514, y:477, silent:true,
  style:{text:'Ef', font:'23px '+FONT, fill:'#000', align:'center', verticalAlign:'middle'}});
graphic.push({type:'text', x:22, y:231, rotation:Math.PI/2, silent:true,
  style:{text:'PDoS (states/eV/cell)', font:'23px '+FONT, fill:'#000', align:'center', verticalAlign:'middle'}});

chart.setOption({
  animation:false,
  backgroundColor:'#fff',
  textStyle:{fontFamily:FONT},
  grid, xAxis, yAxis, series, legend, graphic
});
</script>
</body></html>
